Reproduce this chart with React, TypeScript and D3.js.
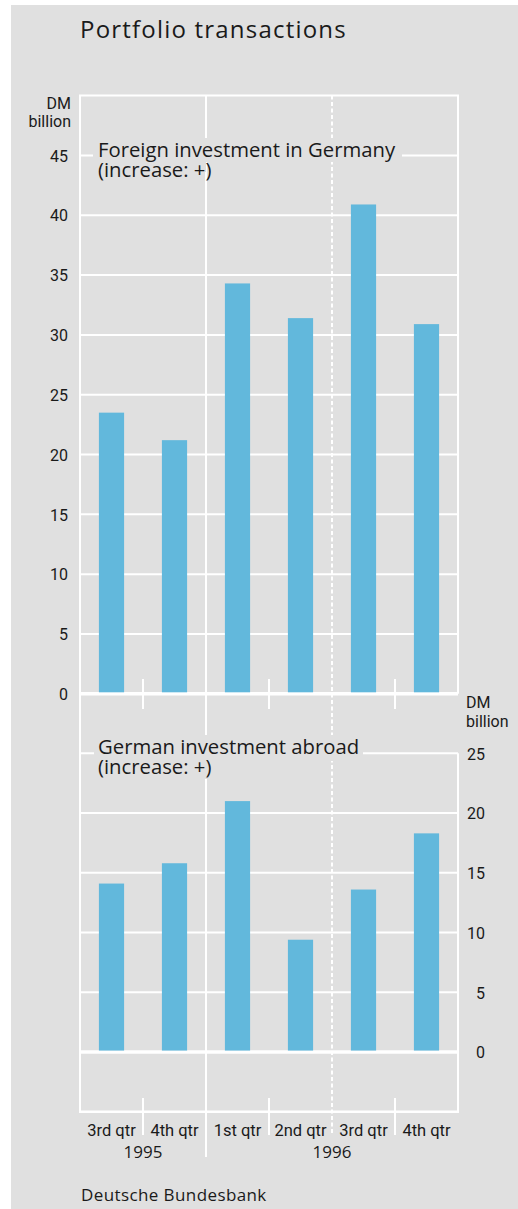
import React from "react";
import * as d3 from "d3";

const periodKeys = ["1995Q3", "1995Q4", "1996Q1", "1996Q2", "1996Q3", "1996Q4"];
const quarterLabels = ["3rd qtr", "4th qtr", "1st qtr", "2nd qtr", "3rd qtr", "4th qtr"];
const years = ["1995", "1996"];
const yearSpans = [[0, 1], [2, 5]];
const foreignInGermany = [23.5, 21.2, 34.3, 31.4, 40.9, 30.9];
const germanAbroad = [14.1, 15.8, 21.0, 9.4, 13.6, 18.3];
const topTicks = [0, 5, 10, 15, 20, 25, 30, 35, 40, 45];
const bottomTicks = [0, 5, 10, 15, 20, 25];
const title = "Portfolio transactions";
const topLabel = ["Foreign investment in Germany", "(increase: +)"];
const bottomLabel = ["German investment abroad", "(increase: +)"];
const unitLabel = ["DM", "billion"];
const source = "Deutsche Bundesbank";

const BG = "#e0e0e0";
const BAR = "#62b8dc";
const INK = "#1a1a1a";
const HUM = "'Open Sans', 'Noto Sans', sans-serif";
const NUM = "Roboto, 'Liberation Sans', sans-serif";

export default function App() {
  const W = 518, H = 1209;
  const x = d3.scaleBand<string>().domain(periodKeys).range([80, 458]).paddingInner(0.6).paddingOuter(0.3);
  const yTop = d3.scaleLinear().domain([0, 50]).range([693.8, 95.6]);
  const yBot = d3.scaleLinear().domain([-5, 25]).range([1111.8, 753.3]);
  const bw = x.bandwidth();
  const step = x.step();
  const boundary = (i: number) => (x(periodKeys[i]) as number) + bw / 2 + step / 2;
  const [x0, x1] = x.range();

  const quarterSeps = [0, 2, 4].map(boundary);
  const yearSep = boundary(1);
  const halfSep = boundary(3);

  return (
    <div style={{ position: "absolute", left: 0, top: 0 }}>
      <svg width={W} height={H} style={{ display: "block" }}>
        <rect x={0} y={0} width={W} height={H} fill="#ffffff" />
        <rect x={11} y={5} width={W - 11} height={H - 5} fill={BG} />

        <text x={80} y={37.5} fontFamily={HUM} fontSize={24} letterSpacing={1.2} fill={INK}>{title}</text>

        {/* ---- top chart ---- */}
        {topTicks.filter((t) => t > 0).map((t) => (
          <line key={"tg" + t} x1={x0} x2={x1} y1={yTop(t)} y2={yTop(t)} stroke="#fff" strokeWidth={2} />
        ))}
        <line x1={x0 - 1} x2={x1 + 1} y1={yTop(50)} y2={yTop(50)} stroke="#fff" strokeWidth={2} />
        <line x1={x1} x2={x1} y1={yTop(50)} y2={yTop(0)} stroke="#fff" strokeWidth={2} />

        {/* ---- bottom chart grid ---- */}
        {bottomTicks.filter((t) => t > 0).map((t) => (
          <line key={"bg" + t} x1={x0} x2={x1} y1={yBot(t)} y2={yBot(t)} stroke="#fff" strokeWidth={2} />
        ))}
        <line x1={x1} x2={x1} y1={yBot(25)} y2={yBot(-5)} stroke="#fff" strokeWidth={2} />
        <line x1={x0 - 1} x2={x1 + 1} y1={yBot(-5)} y2={yBot(-5)} stroke="#fff" strokeWidth={2.5} />

        {/* verticals */}
        <line x1={x0} x2={x0} y1={yTop(50)} y2={yBot(-5)} stroke="#fff" strokeWidth={2} />
        <line x1={yearSep} x2={yearSep} y1={yTop(50)} y2={1157} stroke="#fff" strokeWidth={2} />
        <line x1={halfSep} x2={halfSep} y1={yTop(50)} y2={1135} stroke="#fff" strokeWidth={2} strokeDasharray="4,2.5" />
        {quarterSeps.map((q, i) => (
          <g key={"qs" + i}>
            <line x1={q} x2={q} y1={679} y2={709} stroke="#fff" strokeWidth={2} />
            <line x1={q} x2={q} y1={1098} y2={1135} stroke="#fff" strokeWidth={2} />
          </g>
        ))}

        {/* zero lines */}
        <line x1={x0} x2={x1} y1={yTop(0)} y2={yTop(0)} stroke="#fff" strokeWidth={3.5} />
        <line x1={x0} x2={x1} y1={yBot(0)} y2={yBot(0)} stroke="#fff" strokeWidth={3.5} />

        {/* bars */}
        {foreignInGermany.map((v, i) => (
          <rect key={"tb" + i} x={x(periodKeys[i])} y={yTop(v)} width={bw} height={yTop(0) - yTop(v) - 1.5} fill={BAR} />
        ))}
        {germanAbroad.map((v, i) => (
          <rect key={"bb" + i} x={x(periodKeys[i])} y={yBot(v)} width={bw} height={yBot(0) - yBot(v) - 1.5} fill={BAR} />
        ))}

        {/* panel labels with background */}
        <rect x={93} y={138} width={309} height={24} fill={BG} />
        <rect x={93} y={162} width={113} height={10} fill={BG} />
        <text fontFamily={HUM} fontSize={20.3} fill={INK}>
          <tspan x={98} y={157}>{topLabel[0]}</tspan>
          <tspan x={98} y={177}>{topLabel[1]}</tspan>
        </text>
        <rect x={94} y={735} width={269} height={26} fill={BG} />
        <rect x={94} y={761} width={120} height={18} fill={BG} />
        <text fontFamily={HUM} fontSize={20.3} fill={INK}>
          <tspan x={98} y={753.5}>{bottomLabel[0]}</tspan>
          <tspan x={98} y={773.5}>{bottomLabel[1]}</tspan>
        </text>

        {/* left axis (top chart) */}
        {topTicks.map((t) => (
          <text key={"tl" + t} x={68} y={yTop(t) + 6.2} textAnchor="end" fontFamily={NUM} fontSize={16} fill={INK}>{t}</text>
        ))}
        <text x={71} y={108.5} textAnchor="end" fontFamily={NUM} fontSize={16} fill={INK}>{unitLabel[0]}</text>
        <text x={71} y={126.5} textAnchor="end" fontFamily={NUM} fontSize={16} fill={INK}>{unitLabel[1]}</text>

        {/* right axis (bottom chart) */}
        {bottomTicks.map((t) => (
          <text key={"bl" + t} x={485} y={yBot(t) + 6.2} textAnchor="end" fontFamily={NUM} fontSize={16} fill={INK}>{t}</text>
        ))}
        <text x={466} y={708} fontFamily={NUM} fontSize={16} fill={INK}>{unitLabel[0]}</text>
        <text x={466} y={726.5} fontFamily={NUM} fontSize={16} fill={INK}>{unitLabel[1]}</text>

        {/* category axis */}
        {quarterLabels.map((q, i) => (
          <text key={"ql" + i} x={(x(periodKeys[i]) as number) + bw / 2} y={1136} textAnchor="middle" fontFamily={NUM} fontSize={16.5} fill={INK}>{q}</text>
        ))}
        {years.map((yl, i) => {
          const a = yearSpans[i][0], b = yearSpans[i][1];
          const cx = ((x(periodKeys[a]) as number) + (x(periodKeys[b]) as number) + bw) / 2;
          return (
            <text key={"yl" + i} x={cx} y={1158} textAnchor="middle" fontFamily={HUM} fontSize={17} fill={INK}>{yl}</text>
          );
        })}

        <text x={81} y={1200.5} fontFamily={HUM} fontSize={17} letterSpacing={0.4} fill={INK}>{source}</text>
      </svg>
    </div>
  );
}
